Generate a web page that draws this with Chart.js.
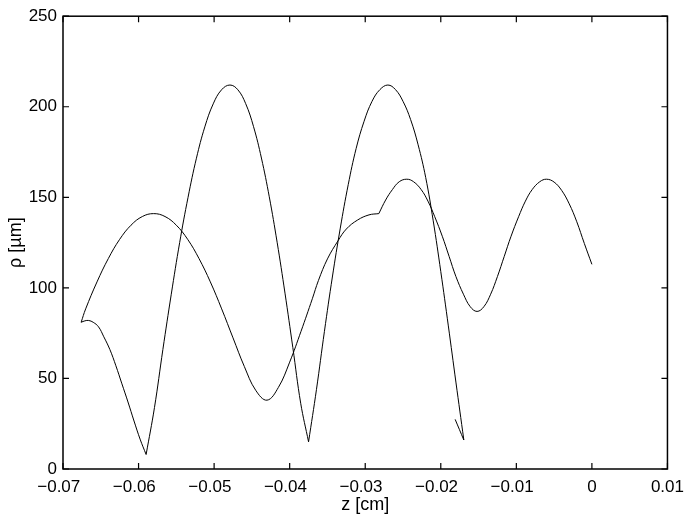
<!DOCTYPE html>
<html>
<head>
<meta charset="utf-8">
<script src="https://cdn.jsdelivr.net/npm/chart.js@4.4.1/dist/chart.umd.min.js"></script>
<style>
  html, body { margin: 0; padding: 0; background: #fff; }
  #wrap { width: 692px; height: 518px; position: relative; }
</style>
</head>
<body>
<div id="wrap"><canvas id="c" width="692" height="518"></canvas></div>
<script>
// Tick values and labels
const xTicks = [-0.07, -0.06, -0.05, -0.04, -0.03, -0.02, -0.01, 0, 0.01];
const xTickLabels = ['\u22120.07', '\u22120.06', '\u22120.05', '\u22120.04', '\u22120.03', '\u22120.02', '\u22120.01', '0', '0.01'];
const yTicks = [0, 50, 100, 150, 200, 250];
const yTickLabels = ['0', '50', '100', '150', '200', '250'];

// Trajectory, piece 1: from z = 0 to the kink near z = -0.028
const z1 = [0, -0.001, -0.002, -0.003, -0.004, -0.005, -0.006, -0.0069, -0.0079, -0.0088,
  -0.0097, -0.0107, -0.0116, -0.0125, -0.0134, -0.0143, -0.0152, -0.0161, -0.0170, -0.0180,
  -0.0189, -0.0198, -0.0208, -0.0217, -0.0226, -0.0236, -0.0245, -0.0255, -0.0264, -0.0273,
  -0.0282];
const rho1 = [113, 124.5, 136.5, 146.4, 153.8, 158.4, 160, 158.6, 154.3, 147.9,
  139.3, 128.5, 117.4, 106.3, 96.5, 89.6, 87, 89.6, 96.5, 106.3,
  117.4, 128.5, 139.3, 147.9, 154.3, 158.6, 160, 158.6, 154.3, 148.5,
  141];

// Piece 2: from the kink to the turning point near z = -0.0676
const z2 = [-0.0282, -0.0295, -0.031, -0.0325, -0.0336, -0.035, -0.0362, -0.037, -0.0385, -0.040,
  -0.0415, -0.043, -0.0445, -0.046, -0.0475, -0.049, -0.0505, -0.052, -0.0535, -0.055,
  -0.0565, -0.058, -0.0595, -0.061, -0.0625, -0.064, -0.0655, -0.067, -0.0676];
const rho2 = [141, 140.3, 137.5, 132.5, 126, 116, 104, 94, 76, 59,
  45, 38, 43.5, 56.6, 72.4, 88.4, 103.3, 116.2, 126.8, 134.6,
  139.4, 141, 139.4, 134.6, 126.8, 116.2, 103.3, 88.4, 81];

// Piece 3: from the turning point down to the first dip
const z3 = [-0.0676, -0.0671, -0.0666, -0.066, -0.0653, -0.0646, -0.0638, -0.063, -0.0622, -0.0614,
  -0.0606, -0.0598, -0.059];
const rho3 = [81, 81.8, 82, 81, 78.5, 73, 66, 57, 47, 37,
  26.5, 16.5, 8];

// Piece 4: first tall arch
const z4 = [-0.059, -0.05789, -0.05678, -0.05567, -0.05456, -0.05345, -0.05234, -0.05123, -0.05012, -0.04901,
  -0.0479, -0.04686, -0.04582, -0.04478, -0.04374, -0.0427, -0.04166, -0.04062, -0.03958, -0.03854,
  -0.0375];
const rho4 = [8, 34, 66, 96.5, 125, 150, 171.6, 188.9, 201.6, 209.4,
  212, 209.4, 201.7, 189, 171.7, 150.3, 125.2, 97.1, 67, 36.3,
  15];

// Piece 5: second tall arch
const z5 = [-0.0375, -0.03645, -0.0354, -0.03435, -0.0333, -0.03225, -0.0312, -0.03015, -0.0291, -0.02805,
  -0.027, -0.026, -0.025, -0.024, -0.023, -0.022, -0.021, -0.020, -0.019, -0.018,
  -0.01695];
const rho5 = [15, 44, 76, 106, 133, 157, 177, 192, 203, 209.5,
  212, 209.5, 203, 193, 179, 161, 137, 109, 79, 48,
  16];

// Piece 6: short hook at the end
const z6 = [-0.01695, -0.0181];
const rho6 = [16, 27.4];

const pieces = [[z1, rho1], [z2, rho2], [z3, rho3], [z4, rho4], [z5, rho5], [z6, rho6]];

const FONT = "'Liberation Sans', Arial, Helvetica, sans-serif";
Chart.defaults.color = '#000';
Chart.defaults.font.family = FONT;

const framePlugin = {
  id: 'matlabFrame',
  afterDraw(chart) {
    const { ctx, chartArea: a, scales } = chart;
    ctx.save();
    ctx.strokeStyle = '#000';
    ctx.lineWidth = 1.5;
    ctx.strokeRect(a.left, a.top, a.right - a.left, a.bottom - a.top);
    ctx.lineWidth = 1.2;
    const tl = 6;
    ctx.beginPath();
    xTicks.forEach(v => {
      const px = scales.x.getPixelForValue(v);
      ctx.moveTo(px, a.bottom); ctx.lineTo(px, a.bottom - tl);
      ctx.moveTo(px, a.top); ctx.lineTo(px, a.top + tl);
    });
    yTicks.forEach(v => {
      const py = scales.y.getPixelForValue(v);
      ctx.moveTo(a.left, py); ctx.lineTo(a.left + tl, py);
      ctx.moveTo(a.right, py); ctx.lineTo(a.right - tl, py);
    });
    ctx.stroke();
    ctx.restore();
  }
};

new Chart(document.getElementById('c'), {
  type: 'scatter',
  data: {
    datasets: pieces.map(([zs, rs]) => ({
      data: zs.map((z, i) => ({ x: z, y: rs[i] })),
      showLine: true,
      borderColor: '#000',
      borderWidth: 1,
      pointRadius: 0,
      pointHoverRadius: 0,
      tension: 0.4,
      fill: false
    }))
  },
  options: {
    responsive: false,
    animation: false,
    events: [],
    layout: { padding: { left: 0, top: 15, right: 24, bottom: 0 } },
    plugins: { legend: { display: false }, tooltip: { enabled: false } },
    scales: {
      x: {
        type: 'linear',
        min: -0.07, max: 0.01,
        afterBuildTicks: s => { s.ticks = xTicks.map(v => ({ value: v })); },
        afterFit: s => { s.height = 49; },
        grid: { display: false, drawTicks: false },
        border: { display: false },
        ticks: {
          padding: 8,
          maxRotation: 0,
          autoSkip: false,
          font: { size: 17, family: FONT },
          // negative labels sit slightly left of their tick, as in the reference
          callback: (v, i) => xTickLabels[i] + (xTicks[i] < 0 ? '\u2002' : '')
        },
        title: { display: true, text: 'z [cm]', font: { size: 18, family: FONT }, padding: { top: 0, bottom: 2 } }
      },
      y: {
        type: 'linear',
        min: 0, max: 250,
        afterBuildTicks: s => { s.ticks = yTicks.map(v => ({ value: v })); },
        afterFit: s => { s.width = 63; },
        grid: { display: false, drawTicks: false },
        border: { display: false },
        ticks: {
          padding: 6,
          autoSkip: false,
          font: { size: 17, family: FONT },
          callback: (v, i) => yTickLabels[i]
        },
        title: { display: true, text: 'ρ [µm]', font: { size: 18, family: FONT }, padding: { top: 5, bottom: 0 } }
      }
    }
  },
  plugins: [framePlugin]
});
</script>
</body>
</html>
